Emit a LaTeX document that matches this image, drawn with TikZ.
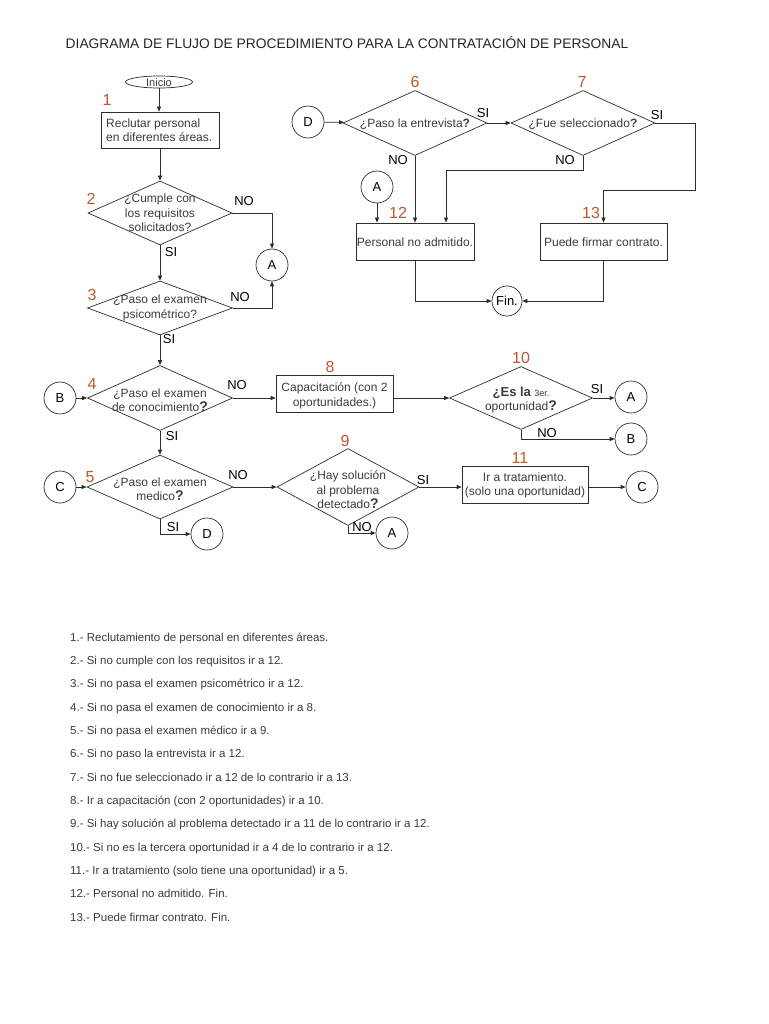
\documentclass[tikz,border=0pt]{standalone}
\usepackage{fontspec}
\setmainfont{Liberation Sans}
\usetikzlibrary{shapes.geometric,arrows.meta}
\definecolor{numc}{RGB}{190,88,45}
\definecolor{txt}{RGB}{60,60,60}
\definecolor{ln}{RGB}{45,45,45}
\begin{document}
\begin{tikzpicture}[x=1pt,y=-1pt,
 every node/.style={inner sep=0pt},
 conn/.style={draw=ln, line width=0.7pt},
 arr/.style={conn, -{Triangle[length=5pt,width=4pt]}},
 dia/.style={diamond, draw=ln, line width=0.7pt},
 box/.style={rectangle, draw=ln, line width=0.7pt},
 conector/.style={circle, draw=ln, line width=0.7pt, minimum size=32pt, font=\fontsize{13}{13}\selectfont},
 numl/.style={text=numc, font=\fontsize{16}{16}\selectfont},
 lbl/.style={font=\fontsize{13}{13}\selectfont},
 tx/.style={text=txt, font=\fontsize{12}{14.5}\selectfont, align=center},
 lst/.style={anchor=base west, text=txt, font=\fontsize{11.5}{12}\selectfont}
]
\useasboundingbox (0,0) rectangle (768,1024);
\fill[white] (0,0) rectangle (768,1024);

\node[font=\fontsize{13.8}{14}\selectfont, text=black!85] (title) at (347,43) {DIAGRAMA DE FLUJO DE PROCEDIMIENTO PARA LA CONTRATACIÓN DE PERSONAL};

% ---------- left column ----------
\node[ellipse, draw=ln, line width=0.7pt, minimum width=67pt, minimum height=12pt] (ini) at (159,82) {};
\node[tx, font=\fontsize{11}{11}\selectfont] (init) at (159,82.5) {Inicio};
\node[numl] (n1) at (107,100) {1};
\node[box, minimum width=118pt, minimum height=36pt] (b1) at (160,130) {};
\node[tx, align=left, anchor=west] (b1t) at (106,130) {Reclutar personal\\en diferentes áreas.};

\node[dia, minimum width=144pt, minimum height=64pt] (d2) at (160,213) {};
\node[tx] (d2t) at (160,213) {¿Cumple con\\los requisitos\\solicitados?};
\node[numl] (n2) at (91,199) {2};
\node[lbl] (no2) at (244,201) {NO};
\node[lbl] (si2) at (171,252) {SI};
\node[conector] (a1) at (272,265) {A};

\node[dia, minimum width=145pt, minimum height=54pt] (d3) at (160,308) {};
\node[tx] (d3t) at (160,308) {¿Paso el examen\\psicométrico?};
\node[numl] (n3) at (92,295) {3};
\node[lbl] (no3) at (240,297) {NO};
\node[lbl] (si3) at (169,339) {SI};

\node[dia, minimum width=145pt, minimum height=65pt] (d4) at (160,398) {};
\node[tx] (d4t) at (160,400) {¿Paso el examen\\de conocimiento{\bfseries\fontsize{14}{14}\selectfont ?}};
\node[numl] (n4) at (92,384) {4};
\node[lbl] (no4) at (237,385) {NO};
\node[lbl] (si4) at (172,436) {SI};
\node[conector] (bc1) at (60,398) {B};

\node[dia, minimum width=146pt, minimum height=64pt] (d5) at (160,487) {};
\node[tx] (d5t) at (160,489) {¿Paso el examen\\medico{\bfseries\fontsize{14}{14}\selectfont ?}};
\node[numl] (n5) at (90,477) {5};
\node[lbl] (no5) at (238,475) {NO};
\node[lbl] (si5) at (173,527) {SI};
\node[conector] (cc1) at (60,487) {C};
\node[conector] (dc1) at (207,534) {D};

% ---------- middle ----------
\node[box, minimum width=117pt, minimum height=37pt] (b8) at (334.5,393.5) {};
\node[tx] (b8t) at (334.5,396) {Capacitación (con 2\\oportunidades.)};
\node[numl] (n8) at (330,367) {8};

\node[dia, minimum width=143pt, minimum height=63pt] (d10) at (521,398) {};
\node[tx] (d10t) at (521,400) {{\bfseries\fontsize{13}{13}\selectfont ¿Es la} {\fontsize{9}{9}\selectfont 3er.}\\oportunidad{\bfseries\fontsize{14}{14}\selectfont ?}};
\node[numl] (n10) at (521,358) {10};
\node[lbl] (si10) at (597,389) {SI};
\node[lbl] (no10) at (547,433) {NO};
\node[conector] (a4) at (631,397) {A};
\node[conector] (bc2) at (631,439) {B};

\node[dia, minimum width=142pt, minimum height=77pt] (d9) at (348,487) {};
\node[tx] (d9t) at (348,490) {¿Hay solución\\al problema\\detectado{\bfseries\fontsize{14}{14}\selectfont ?}};
\node[numl] (n9) at (345,441) {9};
\node[lbl] (si9) at (423,480) {SI};
\node[lbl] (no9) at (362,527) {NO};
\node[conector] (a5) at (392,533) {A};

\node[box, minimum width=126pt, minimum height=37pt] (b11) at (525,484.5) {};
\node[tx] (b11t) at (525,485.5) {Ir a tratamiento.\\(solo una oportunidad)};
\node[numl] (n11) at (520,458) {11};
\node[conector] (cc2) at (642,487) {C};

% ---------- top right ----------
\node[conector] (dc2) at (308,122) {D};
\node[dia, minimum width=144pt, minimum height=65pt] (d6) at (415,123) {};
\node[tx] (d6t) at (415,124) {¿Paso la entrevista{\bfseries ?}};
\node[numl] (n6) at (415,82) {6};
\node[lbl] (si6) at (483,113) {SI};
\node[lbl] (no6) at (398,160) {NO};

\node[dia, minimum width=144pt, minimum height=65pt] (d7) at (583,123) {};
\node[tx] (d7t) at (583,124) {¿Fue seleccionado{\bfseries ?}};
\node[numl] (n7) at (582,82) {7};
\node[lbl] (si7) at (657,115) {SI};
\node[lbl] (no7) at (565,160) {NO};

\node[conector] (a3) at (377,187) {A};
\node[box, minimum width=118pt, minimum height=37pt] (b12) at (415,241.5) {};
\node[tx] (b12t) at (415,242) {Personal no admitido.};
\node[numl] (n12) at (398,213) {12};
\node[box, minimum width=127pt, minimum height=37pt] (b13) at (603.5,241.5) {};
\node[tx] (b13t) at (603.5,242) {Puede firmar contrato.};
\node[numl] (n13) at (591,213) {13};
\node[conector, minimum size=30pt] (fin) at (507,301) {Fin.};

\coordinate (k7s) at (695,190);
\coordinate (k7n) at (446,170);

% ---------- connectors ----------
\draw[arr] (ini.south) -- (ini.south |- b1.north);
\draw[arr] (b1) -- (d2);
\draw[arr] (d2.east) -| (a1.north);
\draw[arr] (d2) -- (d3);
\draw[arr] (d3.east) -| (a1.south);
\draw[arr] (d3) -- (d4);
\draw[arr] (bc1) -- (d4);
\draw[arr] (d4) -- (d5);
\draw[arr] (cc1) -- (d5);
\draw[arr] (d5.south) |- (dc1.west);
\draw[arr] (d4.east) -- (d4.east -| b8.west);
\draw[arr] (b8.east |- d10.west) -- (d10.west);
\draw[arr] (d10.east) -- (a4.west |- d10.east);
\draw[arr] (d10.south) |- (bc2.west);
\draw[arr] (d5.east) -- (d5.east -| d9.west);
\draw[arr] (d9.east) -- (d9.east -| b11.west);
\draw[arr] (d9.south) |- (a5.west);
\draw[arr] (b11.east |- cc2.west) -- (cc2.west);

\draw[arr] (dc2) -- (d6);
\draw[arr] (d6) -- (d7);
\draw[arr] (d6.south) -- (b12.north);
\draw[arr] (d7.south) |- (k7n) -- (k7n |- b12.north);
\draw[arr] (d7.east) -| (k7s) -| (b13.north);
\draw[arr] (a3.south) -- (a3.south |- b12.north);
\draw[arr] (b12.south) |- (fin.west);
\draw[arr] (b13.south) |- (fin.east);

% ---------- list ----------
\node[lst] (l1) at (70,641) {1.- Reclutamiento de personal en diferentes áreas.};
\node[lst] (l2) at (70,664.3) {2.- Si no cumple con los requisitos ir a 12.};
\node[lst] (l3) at (70,687.7) {3.- Si no pasa el examen psicométrico ir a 12.};
\node[lst] (l4) at (70,711) {4.- Si no pasa el examen de conocimiento ir a 8.};
\node[lst] (l5) at (70,734.3) {5.- Si no pasa el examen médico ir a 9.};
\node[lst] (l6) at (70,757.7) {6.- Si no paso la entrevista ir a 12.};
\node[lst] (l7) at (70,781) {7.- Si no fue seleccionado ir a 12 de lo contrario ir a 13.};
\node[lst] (l8) at (70,804.3) {8.- Ir a capacitación (con 2 oportunidades) ir a 10.};
\node[lst] (l9) at (70,827.7) {9.- Si hay solución al problema detectado ir a 11 de lo contrario ir a 12.};
\node[lst] (l10) at (70,851) {10.- Si no es la tercera oportunidad ir a 4 de lo contrario ir a 12.};
\node[lst] (l11) at (70,874.3) {11.- Ir a tratamiento (solo tiene una oportunidad) ir a 5.};
\node[lst] (l12) at (70,897.7) {12.- Personal no admitido. Fin.};
\node[lst] (l13) at (70,921) {13.- Puede firmar contrato. Fin.};
\end{tikzpicture}
\end{document}
